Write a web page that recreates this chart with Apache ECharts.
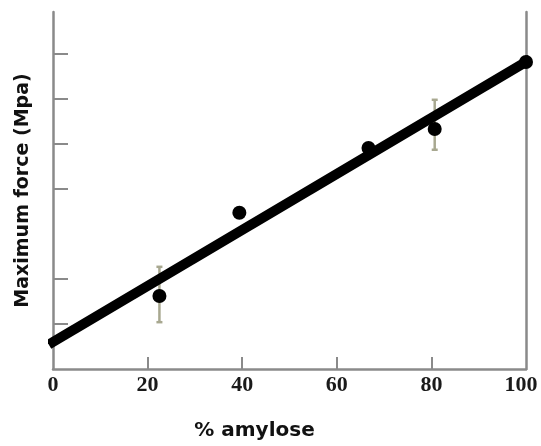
<!DOCTYPE html>
<html>
<head>
<meta charset="utf-8">
<script src="https://cdn.jsdelivr.net/npm/echarts@6/dist/echarts.min.js"></script>
<style>
html,body{margin:0;padding:0;background:#fff;}
#c{width:541px;height:446px;}
</style>
</head>
<body>
<div id="c"></div>
<script>
// Data
const amylose  = [22.5, 39.4, 66.7, 80.7, 100];
const maxForce = [1.62, 3.47, 4.91, 5.33, 6.82];
const errX     = [22.5, 80.7];
const errLow   = [1.04, 4.87];
const errHigh  = [2.27, 5.98];
const fitX     = [0, 100];
const fitY     = [0.6, 6.82];
const xTickLabels = [0, 20, 40, 60, 80, 100];
const xTicks   = [20, 40, 60, 80];
const yTicks   = [1, 2, 4, 5, 6, 7];

const chart = echarts.init(document.getElementById('c'));
const axisGray = '#8a8a8a';
const labelFont = { fontFamily: 'Liberation Serif', fontWeight: 'bold', fontSize: 22, color: '#1a1a1a' };

chart.setOption({
  animation: false,
  backgroundColor: '#fff',
  grid: { left: 53, right: 15, top: 12, bottom: 77, containLabel: false, outerBoundsMode: 'none' },
  xAxis: {
    type: 'value', min: 0, max: 100, interval: 20,
    name: '% amylose', nameLocation: 'middle', nameGap: 52,
    nameTextStyle: { fontFamily: 'DejaVu Sans', fontWeight: 'bold', fontSize: 20, color: '#111', padding: [0, 70, 0, 0] },
    axisLine: { show: true, onZero: false, lineStyle: { color: axisGray, width: 2.5 } },
    axisTick: { show: true, inside: true, length: 12, customValues: xTicks, lineStyle: { color: axisGray, width: 2 } },
    axisLabel: Object.assign({
      customValues: xTickLabels, margin: 5, hideOverlap: false,
      formatter: function (v) { return v === 100 ? '{r|100}' : String(v); },
      rich: { r: Object.assign({ padding: [0, 10, 0, 0] }, labelFont) }
    }, labelFont),
    splitLine: { show: false }
  },
  yAxis: [{
    type: 'value', min: 0, max: 7.93, interval: 1,
    name: 'Maximum force (Mpa)', nameLocation: 'middle', nameGap: 20, nameRotate: 90,
    nameTextStyle: { fontFamily: 'DejaVu Sans', fontWeight: 'bold', fontSize: 19, color: '#111' },
    axisLine: { show: true, onZero: false, lineStyle: { color: axisGray, width: 2.5 } },
    axisTick: { show: true, inside: true, length: 15, customValues: yTicks, lineStyle: { color: axisGray, width: 2 } },
    axisLabel: { show: false },
    splitLine: { show: false }
  }, {
    type: 'value', min: 0, max: 7.93, position: 'right',
    axisLine: { show: true, onZero: false, lineStyle: { color: axisGray, width: 2.5 } },
    axisTick: { show: false }, axisLabel: { show: false }, splitLine: { show: false }
  }],
  series: [
    {
      type: 'custom',
      data: errX.map((x, i) => [x, errLow[i], errHigh[i]]),
      renderItem: function (params, api) {
        const x = api.value(0);
        const p1 = api.coord([x, api.value(1)]);
        const p2 = api.coord([x, api.value(2)]);
        const st = { stroke: '#a8a890', lineWidth: 2.5 };
        return {
          type: 'group',
          children: [
            { type: 'line', shape: { x1: p1[0], y1: p1[1], x2: p2[0], y2: p2[1] }, style: st },
            { type: 'line', shape: { x1: p1[0] - 3, y1: p1[1], x2: p1[0] + 3, y2: p1[1] }, style: st },
            { type: 'line', shape: { x1: p2[0] - 3, y1: p2[1], x2: p2[0] + 3, y2: p2[1] }, style: st }
          ]
        };
      },
      z: 2
    },
    {
      type: 'scatter',
      data: amylose.map((x, i) => [x, maxForce[i]]),
      symbol: 'circle', symbolSize: 14,
      itemStyle: { color: '#000', opacity: 1 },
      z: 3
    },
    {
      type: 'line',
      data: fitX.map((x, i) => [x, fitY[i]]),
      showSymbol: false, symbol: 'none', clip: false,
      lineStyle: { color: '#000', width: 10, cap: 'square' },
      z: 4
    }
  ]
});
</script>
</body>
</html>
